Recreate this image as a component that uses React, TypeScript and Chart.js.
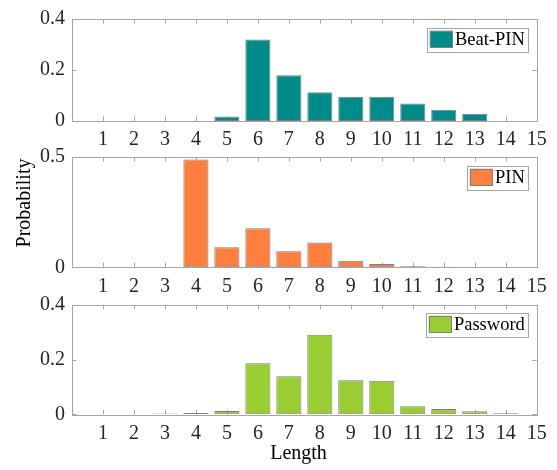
import React, { useEffect, useRef } from "react";
import { Chart, registerables } from "chart.js";

Chart.register(...registerables);

// ---------- data ----------
const lengths = [1, 2, 3, 4, 5, 6, 7, 8, 9, 10, 11, 12, 13, 14];
const beatPin = [0, 0, 0, 0, 0.018, 0.32, 0.179, 0.113, 0.095, 0.095, 0.069, 0.044, 0.028, 0];
const pin = [0, 0, 0, 0.489, 0.091, 0.177, 0.073, 0.112, 0.03, 0.015, 0.005, 0.003, 0.001, 0.001];
const password = [0, 0.001, 0.003, 0.005, 0.012, 0.186, 0.139, 0.29, 0.124, 0.122, 0.029, 0.019, 0.011, 0.004];
const xTickValues = [1, 2, 3, 4, 5, 6, 7, 8, 9, 10, 11, 12, 13, 14, 15];
const yTicksA = [0, 0.2, 0.4];
const yTicksB = [0, 0.5];
const seriesNames = ["Beat-PIN", "PIN", "Password"];
const xTitle = "Length";
const yTitle = "Probability";

// ---------- layout / style ----------
const W = 557;
const H = 470;
const FONT = "'Liberation Serif', 'Times New Roman', serif";
const TEXT = "#262626";
const AXIS = "#a6a6a6";
const EDGE = "#7f7f7f";
const XH = 30;

Chart.defaults.font.family = FONT;

const panels = [
  { name: seriesNames[0], values: beatPin, color: "#008B8B", yMax: 0.4, yTicks: yTicksA, top: 12, bottom: 121, legTop: 8.7 },
  { name: seriesNames[1], values: pin, color: "#FF7F3F", yMax: 0.5, yTicks: yTicksB, top: 157, bottom: 267.3, legTop: 8.7 },
  { name: seriesNames[2], values: password, color: "#9ACD32", yMax: 0.4, yTicks: yTicksA, top: 304.7, bottom: 414.3, legTop: 8 },
];

function makeChart(canvas: HTMLCanvasElement, idx: number) {
  const p = panels[idx];
  const frame = {
    id: "frame" + idx,
    beforeDatasetsDraw(chart: any) {
      const { ctx, chartArea: a, scales } = chart;
      ctx.save();
      ctx.strokeStyle = AXIS;
      ctx.lineWidth = 1;
      ctx.beginPath();
      const tl = 4.5;
      for (const v of xTickValues) {
        const x = Math.round(scales.x.getPixelForValue(v)) + 0.5;
        ctx.moveTo(x, a.top);
        ctx.lineTo(x, a.top + tl);
        ctx.moveTo(x, a.bottom);
        ctx.lineTo(x, a.bottom - tl);
      }
      for (const v of p.yTicks) {
        const y = Math.round(scales.y.getPixelForValue(v)) + 0.5;
        ctx.moveTo(a.left, y);
        ctx.lineTo(a.left + tl, y);
        ctx.moveTo(a.right, y);
        ctx.lineTo(a.right - tl, y);
      }
      ctx.stroke();
      ctx.restore();
    },
    afterDraw(chart: any) {
      const { ctx, chartArea: a } = chart;
      ctx.save();
      ctx.strokeStyle = AXIS;
      ctx.lineWidth = 1;
      ctx.strokeRect(Math.round(a.left) + 0.5, Math.round(a.top) + 0.5, Math.round(a.right - a.left), Math.round(a.bottom - a.top));
      // legend
      ctx.font = `18.5px ${FONT}`;
      const tw = ctx.measureText(p.name).width;
      const bw = 2.7 + 22.7 + 2.5 + tw + 3.5;
      const bh = 23.5;
      const bx = a.right - 8.4 - bw;
      const by = a.top + p.legTop;
      ctx.fillStyle = "#ffffff";
      ctx.fillRect(bx, by, bw, bh);
      ctx.strokeStyle = AXIS;
      ctx.strokeRect(Math.round(bx) + 0.5, Math.round(by) + 0.5, Math.round(bw), Math.round(bh));
      ctx.fillStyle = p.color;
      ctx.fillRect(bx + 2.7, by + 3, 22.7, 16.5);
      ctx.strokeStyle = EDGE;
      ctx.strokeRect(Math.round(bx + 2.7) + 0.5, Math.round(by + 3) + 0.5, 22, 16);
      ctx.fillStyle = "#000000";
      ctx.textBaseline = "middle";
      ctx.textAlign = "left";
      ctx.fillText(p.name, bx + 2.7 + 22.7 + 2.5, by + bh / 2 + 0.5);
      // axis titles
      ctx.font = `20px ${FONT}`;
      ctx.fillStyle = "#000000";
      if (idx === 1) {
        ctx.translate(24.5, 203);
        ctx.rotate(-Math.PI / 2);
        ctx.textAlign = "center";
        ctx.textBaseline = "middle";
        ctx.fillText(yTitle, 0, 0);
      }
      if (idx === 2) {
        ctx.textAlign = "center";
        ctx.textBaseline = "middle";
        ctx.fillText(xTitle, 298.5, 454);
      }
      ctx.restore();
    },
  };

  return new Chart(canvas, {
    type: "bar",
    data: {
      datasets: [
        {
          label: p.name,
          data: lengths.map((x, i) => ({ x, y: p.values[i] })),
          backgroundColor: p.color,
          borderColor: EDGE,
          borderWidth: 1,
          borderSkipped: false,
          categoryPercentage: 0.81,
          barPercentage: 1,
        },
      ],
    },
    options: {
      responsive: false,
      animation: false,
      devicePixelRatio: 1,
      layout: { padding: { top: p.top, left: 0, right: W - 536.7, bottom: H - p.bottom - XH } },
      plugins: { legend: { display: false }, tooltip: { enabled: false } },
      scales: {
        x: {
          type: "linear",
          offset: false,
          min: 0,
          max: 15,
          afterBuildTicks: (axis: any) => {
            axis.ticks = xTickValues.map((v) => ({ value: v }));
          },
          afterFit: (axis: any) => {
            axis.height = XH;
          },
          ticks: {
            autoSkip: false,
            maxRotation: 0,
            padding: 7,
            color: TEXT,
            font: { family: FONT, size: 20 },
            callback: (v: any) => String(v),
          },
          grid: { display: false, drawTicks: false, offset: false },
          border: { display: false },
        },
        y: {
          min: 0,
          max: p.yMax,
          afterBuildTicks: (axis: any) => {
            axis.ticks = p.yTicks.map((v) => ({ value: v }));
          },
          afterFit: (axis: any) => {
            axis.width = 72;
          },
          ticks: {
            padding: 7,
            color: TEXT,
            font: { family: FONT, size: 20 },
            callback: (v: any) => String(v),
          },
          grid: { display: false, drawTicks: false },
          border: { display: false },
        },
      },
    } as any,
    plugins: [frame],
  });
}

export default function App() {
  const r0 = useRef<HTMLCanvasElement>(null);
  const r1 = useRef<HTMLCanvasElement>(null);
  const r2 = useRef<HTMLCanvasElement>(null);

  useEffect(() => {
    const refs = [r0, r1, r2];
    const charts = refs.map((r, i) => makeChart(r.current as HTMLCanvasElement, i));
    return () => charts.forEach((c) => c.destroy());
  }, []);

  const st: React.CSSProperties = { position: "absolute", left: 0, top: 0, width: W, height: H };
  return (
    <div style={{ position: "fixed", left: 0, top: 0, width: W, height: H, background: "#ffffff" }}>
      <canvas ref={r0} width={W} height={H} style={st} />
      <canvas ref={r1} width={W} height={H} style={st} />
      <canvas ref={r2} width={W} height={H} style={st} />
    </div>
  );
}
